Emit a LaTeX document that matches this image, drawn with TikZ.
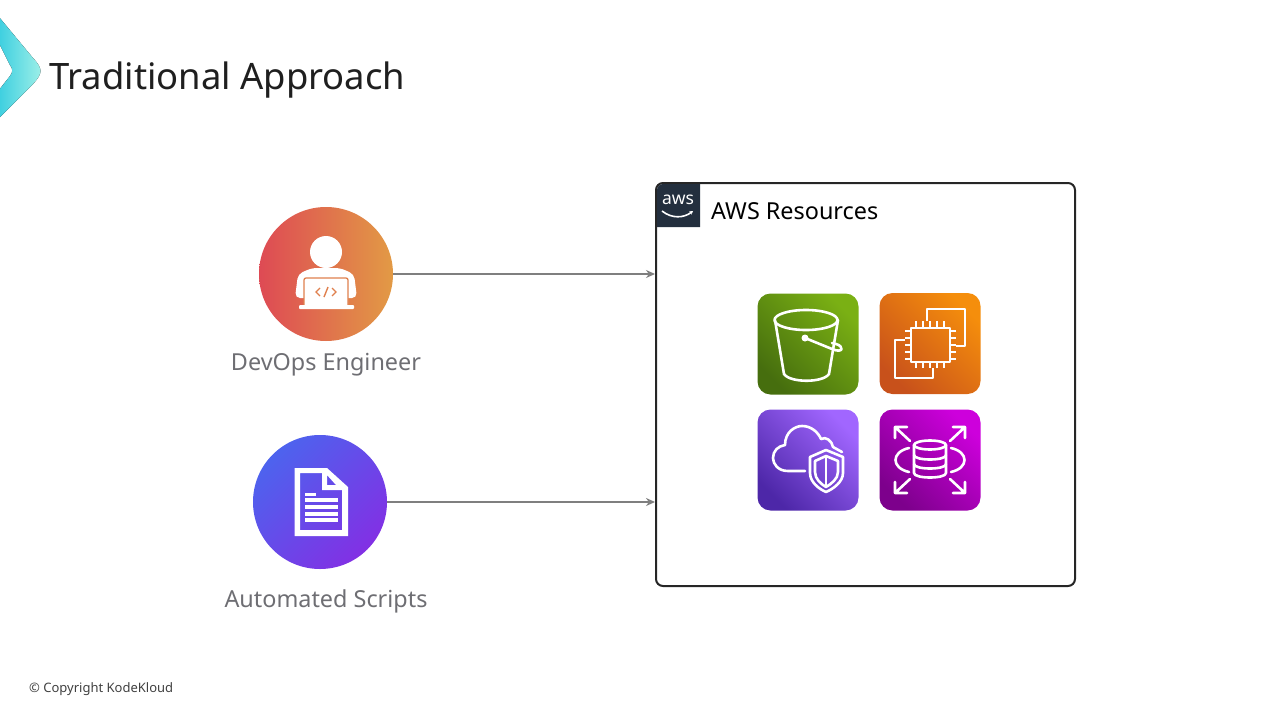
\documentclass[tikz,border=0pt]{standalone}
\usepackage{fontspec}
\setmainfont{Noto Sans}
\usetikzlibrary{arrows.meta}
\definecolor{awsdark}{HTML}{232F3E}
\definecolor{labelgray}{HTML}{6E6E73}
\definecolor{linegray}{HTML}{7F7F7F}
\definecolor{laptopline}{HTML}{E0804E}
\tikzset{
	actor/.style={circle, minimum size=134pt, inner sep=0pt},
	tile/.style={rounded corners=13pt, minimum size=101pt, inner sep=0pt},
	flow/.style={draw=linegray, line width=1.6pt, -{Stealth[length=9pt,width=8pt]}},
	actorlabel/.style={text=labelgray, font=\fontsize{23.4}{28}\selectfont, inner sep=0pt},
	glyph/.style={draw=white, line width=2.6pt, line cap=round, line join=round},
}
\begin{document}
\begin{tikzpicture}[x=1pt, y=-1pt]
	\useasboundingbox (0,0) rectangle (1280,720);

	\fill[left color={rgb,255:red,62;green,207;blue,224}, right color={rgb,255:red,160;green,240;blue,232}]
		(-1,17) -- (33,58) .. controls (43,69) and (43,73) .. (33,84) -- (-1,118) -- (-1,90) -- (10,76) .. controls (13,72) and (13,69) .. (10,65) -- (-1,43) -- cycle;
	\node[anchor=west, inner sep=0pt, text=black!88, font=\fontsize{36.4}{42}\selectfont] (title) at (49,80) {Traditional Approach};
	\node[anchor=west, inner sep=0pt, text=black!75, font=\fontsize{13}{16}\selectfont] (copyright) at (29,689) {© Copyright KodeKloud};

	\node[actor, left color={rgb,255:red,222;green,74;blue,84}, right color={rgb,255:red,226;green,154;blue,69}] (engineer) at (326,274) {};
	\node[actor, bottom color={rgb,255:red,130;green,48;blue,228}, top color={rgb,255:red,77;green,99;blue,238}, shading angle=45] (scripts) at (320,502) {};
	\node[actorlabel] (engineerlabel) at (326,365) {DevOps Engineer};
	\node[actorlabel] (scriptslabel) at (326,601) {Automated Scripts};

	\node[draw=black!85, line width=2pt, rounded corners=7pt, minimum width=419pt, minimum height=403pt, inner sep=0pt] (awsbox) at (865.5,384.5) {};
	\fill[awsdark] (657,227) -- (657,190) arc[start angle=180, end angle=270, radius=6] -- (700,184) -- (700,227) -- cycle;
	\node[text=white, inner sep=0pt, font=\fontsize{17.5}{20}\selectfont] (awstext) at (678,200) {aws};
	\coordinate (smilestart) at (662,211);
	\coordinate (smileend) at (693,211);
	\draw[white, line width=1.6pt, -{Stealth[length=3.5pt,width=4pt]}] (smilestart) .. controls (672,219) and (684,218) .. (smileend);
	\node[anchor=west, inner sep=0pt, text=black, font=\fontsize{23.4}{28}\selectfont] (awstitle) at (711,211) {AWS Resources};

	\draw[flow] (engineer.east) -- (engineer.east -| awsbox.west);
	\draw[flow] (scripts.east) -- (scripts.east -| awsbox.west);

	\node[tile, bottom color={rgb,255:red,70;green,110;blue,14}, top color={rgb,255:red,122;green,176;blue,20}, shading angle=-45] (storage) at (808,344) {};
	\node[tile, bottom color={rgb,255:red,200;green,81;blue,27}, top color={rgb,255:red,245;green,142;blue,12}, shading angle=-45] (compute) at (930,343.5) {};
	\node[tile, bottom color={rgb,255:red,77;green,39;blue,168}, top color={rgb,255:red,161;green,102;blue,255}, shading angle=-45] (security) at (808,460) {};
	\node[tile, bottom color={rgb,255:red,125;green,0;blue,140}, top color={rgb,255:red,205;green,0;blue,220}, shading angle=-45] (database) at (930,460) {};

	\begin{scope}[shift={(326,274)}]
		\fill[white] (0,-22) circle (16);
		\fill[white, rounded corners=5pt] (-31,24) -- (-28,0) -- (-14,-6) -- (14,-6) -- (28,0) -- (31,24) -- cycle;
		\draw[draw=laptopline, fill=white, line width=1.3pt, rounded corners=2pt] (-22,32) -- (-22,4) -- (22,4) -- (22,32);
		\fill[white, rounded corners=1pt] (-27,31) rectangle (28,35);
		\draw[draw=laptopline, line width=1.4pt] (-6,14) -- (-10,18) -- (-6,22) (6,14) -- (10,18) -- (6,22) (2,13) -- (-2,23);
	\end{scope}

	\begin{scope}[shift={(320,502)}]
		\fill[white, even odd rule] (-25.5,-34) -- (7,-34) -- (28,-15) -- (28,34) -- (-25.5,34) -- cycle
			(-20,-29) -- (2,-29) -- (2,-12) -- (22,-12) -- (22,28) -- (-20,28) -- cycle
			(7,-27) -- (16,-17) -- (7,-17) -- cycle;
		\fill[white] (-15,-9.5) rectangle (-4,-6.5);
		\foreach \ly in {-2,5,12,18}
			\fill[white] (-15,\ly-1.6) rectangle (18,\ly+1.6);
	\end{scope}

	\begin{scope}[shift={(758,294)}]
		\draw[glyph] (48,26) ellipse (31.5 and 10);
		\draw[glyph] (17,26) -- (26,80) .. controls (32,89) and (65,89) .. (71,80) -- (80,26);
		\fill[white] (47,44) circle (3.5);
		\draw[glyph] (47,44) -- (74,55) .. controls (86,60) and (86,52) .. (78,50) -- (74,49);
	\end{scope}

	\begin{scope}[shift={(880,293)}]
		\draw[glyph] (31,35) rectangle (70,69);
		\draw[glyph, line cap=butt] (47,28) -- (47,16) -- (85,16) -- (85,53) -- (76,53);
		\draw[glyph, line cap=butt] (25,47) -- (15,47) -- (15,85) -- (53,85) -- (53,75);
		\foreach \px in {36,43,50,57,64}
			\draw[glyph, line cap=butt] (\px,28) -- (\px,35) (\px,69) -- (\px,75);
		\foreach \py in {38,45,52,59,66}
			\draw[glyph, line cap=butt] (25,\py) -- (31,\py) (70,\py) -- (76,\py);
	\end{scope}

	\begin{scope}[shift={(758,410)}]
		\draw[glyph] (47,61) -- (30,61) .. controls (20,61) and (15,54) .. (15,48) .. controls (15,41) and (20,36) .. (27,35)
			.. controls (27,22) and (37,16) .. (44,16) .. controls (53,16) and (60,22) .. (63,29) .. controls (68,26) and (74,31) .. (75,37) -- (84,42);
		\draw[glyph] (68,40) -- (85,47) -- (85,63) .. controls (85,72) and (75,79) .. (68,82) .. controls (61,79) and (52,72) .. (52,63) -- (52,47) -- cycle;
		\draw[glyph] (68,46) -- (80,51) -- (80,62) .. controls (80,69) and (73,74) .. (68,77) .. controls (63,74) and (57,69) .. (57,62) -- (57,51) -- cycle;
		\draw[glyph] (68,46) -- (68,77);
	\end{scope}

	\begin{scope}[shift={(880,410)}]
		\draw[glyph] (50,35) ellipse (16 and 4.5);
		\draw[glyph] (34,35) -- (34,63) .. controls (34,69) and (66,69) .. (66,63) -- (66,35);
		\draw[glyph] (34,45) .. controls (34,51) and (66,51) .. (66,45) (34,54) .. controls (34,60) and (66,60) .. (66,54);
		\draw[glyph] (29,38) .. controls (11,42) and (11,58) .. (29,62);
		\draw[glyph] (71,38) .. controls (89,42) and (89,58) .. (71,62);
		\draw[glyph] (15,28) -- (15,17) -- (27,17) (15,17) -- (30,31);
		\draw[glyph] (85,28) -- (85,17) -- (73,17) (85,17) -- (70,31);
		\draw[glyph] (15,72) -- (15,83) -- (27,83) (15,83) -- (30,69);
		\draw[glyph] (85,72) -- (85,83) -- (73,83) (85,83) -- (70,69);
	\end{scope}
\end{tikzpicture}
\end{document}
